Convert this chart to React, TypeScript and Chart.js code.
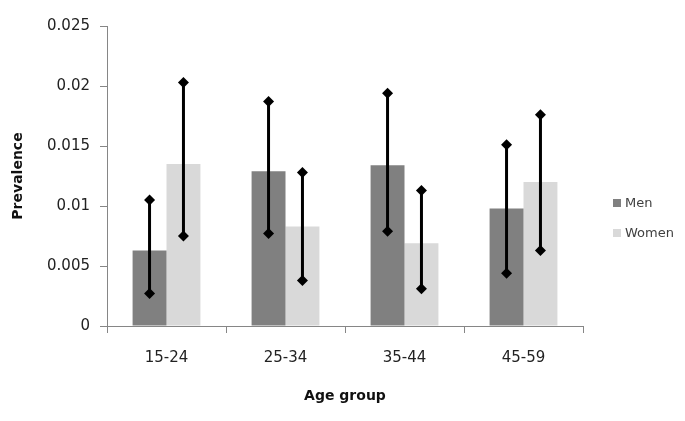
import React, { useEffect, useRef } from 'react';
import { Chart, registerables } from 'chart.js';

Chart.register(...registerables);

const categories = ['15-24', '25-34', '35-44', '45-59'];
const seriesNames = ['Men', 'Women'];
const seriesColors = ['#808080', '#d9d9d9'];
const menValues = [0.0063, 0.0129, 0.0134, 0.0098];
const womenValues = [0.0135, 0.0083, 0.0069, 0.012];
const menLower = [0.0027, 0.0077, 0.0079, 0.0044];
const menUpper = [0.0105, 0.0187, 0.0194, 0.0151];
const womenLower = [0.0075, 0.0038, 0.0031, 0.0063];
const womenUpper = [0.0203, 0.0128, 0.0113, 0.0176];
const yTickLabels = ['0', '0.005', '0.01', '0.015', '0.02', '0.025'];
const xTitle = 'Age group';
const yTitle = 'Prevalence';

const errorLows = [menLower, womenLower];
const errorHighs = [menUpper, womenUpper];

const FONT = '"DejaVu Sans", sans-serif';

const errorBarPlugin = {
  id: 'errorBars',
  afterDatasetsDraw(chart: any) {
    const ctx = chart.ctx;
    const yScale = chart.scales.y;
    chart.data.datasets.forEach((_ds: any, di: number) => {
      const meta = chart.getDatasetMeta(di);
      meta.data.forEach((bar: any, i: number) => {
        const x = bar.x;
        const yLo = yScale.getPixelForValue(errorLows[di][i]);
        const yHi = yScale.getPixelForValue(errorHighs[di][i]);
        ctx.save();
        ctx.strokeStyle = '#000';
        ctx.fillStyle = '#000';
        ctx.lineWidth = 3;
        ctx.beginPath();
        ctx.moveTo(x, yLo);
        ctx.lineTo(x, yHi);
        ctx.stroke();
        const r = 5.5;
        [yLo, yHi].forEach((yy) => {
          ctx.beginPath();
          ctx.moveTo(x, yy - r);
          ctx.lineTo(x + r, yy);
          ctx.lineTo(x, yy + r);
          ctx.lineTo(x - r, yy);
          ctx.closePath();
          ctx.fill();
        });
        ctx.restore();
      });
    });
  },
};

const legendPlugin = {
  id: 'sideLegend',
  afterDraw(chart: any) {
    const ctx = chart.ctx;
    const area = chart.chartArea;
    const boxX = area.right + 30;
    const centerY = (area.top + area.bottom) / 2;
    ctx.save();
    ctx.font = '13px ' + FONT;
    ctx.textBaseline = 'middle';
    ctx.textAlign = 'left';
    chart.data.datasets.forEach((ds: any, i: number) => {
      const y = centerY + 27 + i * 30;
      ctx.fillStyle = ds.backgroundColor;
      ctx.fillRect(boxX, y - 4, 8, 8);
      ctx.fillStyle = '#404040';
      ctx.fillText(ds.label, boxX + 12, y + 1);
    });
    ctx.restore();
  },
};

export default function App() {
  const canvasRef = useRef<HTMLCanvasElement | null>(null);

  useEffect(() => {
    if (!canvasRef.current) return;
    const chart = new Chart(canvasRef.current, {
      type: 'bar',
      data: {
        labels: categories,
        datasets: [
          {
            label: seriesNames[0],
            data: menValues,
            backgroundColor: seriesColors[0],
            borderWidth: 0,
            barPercentage: 1,
            categoryPercentage: 0.57,
          },
          {
            label: seriesNames[1],
            data: womenValues,
            backgroundColor: seriesColors[1],
            borderWidth: 0,
            barPercentage: 1,
            categoryPercentage: 0.57,
          },
        ],
      },
      options: {
        responsive: false,
        animation: false,
        layout: { padding: { top: 26, right: 102, bottom: 0, left: 0 } },
        plugins: {
          legend: { display: false },
          tooltip: { enabled: false },
        },
        scales: {
          x: {
            grid: {
              drawOnChartArea: false,
              drawTicks: true,
              tickLength: 7,
              color: '#868686',
              offset: true,
            },
            border: { display: true, color: '#868686', width: 1 },
            ticks: {
              padding: 16,
              color: '#222',
              font: { family: FONT, size: 15 },
            },
            title: {
              display: true,
              text: xTitle,
              color: '#111',
              font: { family: FONT, size: 14, weight: 'bold' },
              padding: { top: 0, bottom: 16 },
            },
            afterFit(scale: any) {
              scale.height = 95;
            },
          },
          y: {
            min: 0,
            max: 0.025,
            grid: {
              drawOnChartArea: false,
              drawTicks: true,
              tickLength: 7,
              color: '#868686',
            },
            border: { display: true, color: '#868686', width: 1 },
            ticks: {
              stepSize: 0.005,
              padding: 10,
              color: '#222',
              font: { family: FONT, size: 15 },
              callback: (_v: any, i: number) => yTickLabels[i],
            },
            title: {
              display: true,
              text: yTitle,
              color: '#111',
              font: { family: FONT, size: 14, weight: 'bold' },
              padding: { top: 10, bottom: 0 },
            },
            afterFit(scale: any) {
              scale.width = 107;
            },
          },
        },
      },
      plugins: [errorBarPlugin, legendPlugin],
    } as any);
    return () => chart.destroy();
  }, []);

  return (
    <div style={{ position: 'fixed', left: 0, top: 0, width: 685, height: 421, background: '#fff' }}>
      <canvas ref={canvasRef} width={685} height={421} style={{ display: 'block' }} />
    </div>
  );
}
